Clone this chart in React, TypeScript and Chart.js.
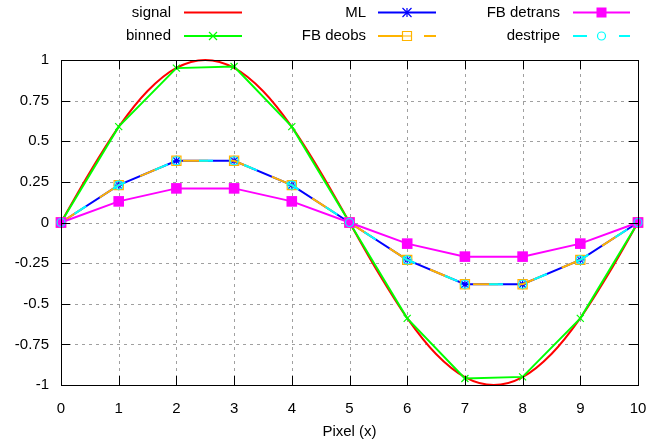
import React, { useEffect, useRef } from "react";
import { Chart, registerables } from "chart.js";

Chart.register(...registerables);

const pixels = [0, 1, 2, 3, 4, 5, 6, 7, 8, 9, 10];
const signalX = [0, 0.5, 1, 1.5, 2, 2.5, 3, 3.5, 4, 4.5, 5, 5.5, 6, 6.5, 7, 7.5, 8, 8.5, 9, 9.5, 10];
const signalY = [0, 0.309, 0.588, 0.809, 0.951, 1, 0.951, 0.809, 0.588, 0.309, 0, -0.309, -0.588, -0.809, -0.951, -1, -0.951, -0.809, -0.588, -0.309, 0];
const binned = [0, 0.59, 0.95, 0.96, 0.59, 0, -0.59, -0.96, -0.95, -0.59, 0];
const ml = [0, 0.23, 0.38, 0.38, 0.23, 0, -0.23, -0.38, -0.38, -0.23, 0];
const fbDeobs = [0, 0.23, 0.38, 0.38, 0.23, 0, -0.23, -0.38, -0.38, -0.23, 0];
const fbDetrans = [0, 0.13, 0.21, 0.21, 0.13, 0, -0.13, -0.21, -0.21, -0.13, 0];
const destripe = [0, 0.23, 0.38, 0.38, 0.23, 0, -0.23, -0.38, -0.38, -0.23, 0];

const xTickValues = [0, 1, 2, 3, 4, 5, 6, 7, 8, 9, 10];
const xTickLabels = ["0", "1", "2", "3", "4", "5", "6", "7", "8", "9", "10"];
const yTickValues = [-1, -0.75, -0.5, -0.25, 0, 0.25, 0.5, 0.75, 1];
const yTickLabels = ["-1", "-0.75", "-0.5", "-0.25", "0", "0.25", "0.5", "0.75", "1"];
const xTitle = "Pixel (x)";

const FONT = "Liberation Sans, Arial, sans-serif";
const FS = 15;

const RED = "#ff0000";
const GREEN = "#00ff00";
const BLUE = "#0000ff";
const ORANGE = "#ffb400";
const MAGENTA = "#ff00ff";
const CYAN = "#00ffff";

const ORANGE_DASH = [25, 21];
const CYAN_DASH = [14, 32];

type Marker = "none" | "x" | "star" | "box" | "fbox" | "circle";

function drawMarker(ctx: CanvasRenderingContext2D, m: Marker, x: number, y: number, color: string) {
  ctx.save();
  ctx.setLineDash([]);
  ctx.strokeStyle = color;
  ctx.fillStyle = color;
  ctx.lineWidth = 1.2;
  ctx.beginPath();
  if (m === "x") {
    const r = 4;
    ctx.moveTo(x - r, y - r); ctx.lineTo(x + r, y + r);
    ctx.moveTo(x - r, y + r); ctx.lineTo(x + r, y - r);
    ctx.stroke();
  } else if (m === "star") {
    const r = 4.5;
    ctx.moveTo(x - r, y - r); ctx.lineTo(x + r, y + r);
    ctx.moveTo(x - r, y + r); ctx.lineTo(x + r, y - r);
    ctx.moveTo(x - r, y); ctx.lineTo(x + r, y);
    ctx.moveTo(x, y - r); ctx.lineTo(x, y + r);
    ctx.stroke();
  } else if (m === "box") {
    const r = 4.5;
    ctx.rect(x - r, y - r, 2 * r, 2 * r);
    ctx.moveTo(x - r, y); ctx.lineTo(x + r, y);
    ctx.stroke();
  } else if (m === "fbox") {
    const r = 5;
    ctx.fillRect(x - r, y - r, 2 * r, 2 * r);
  } else if (m === "circle") {
    ctx.arc(x, y, 4, 0, Math.PI * 2);
    ctx.stroke();
  }
  ctx.restore();
}

const legendEntries = [
  { label: "signal", color: RED, textRight: 171, x1: 184, x2: 242, y: 12.5, dash: [] as number[], marker: "none" as Marker },
  { label: "binned", color: GREEN, textRight: 171, x1: 184, x2: 242, y: 36, dash: [] as number[], marker: "x" as Marker },
  { label: "ML", color: BLUE, textRight: 366, x1: 378, x2: 436, y: 12.5, dash: [] as number[], marker: "star" as Marker },
  { label: "FB deobs", color: ORANGE, textRight: 366, x1: 378, x2: 436, y: 36, dash: [25, 21], marker: "box" as Marker },
  { label: "FB detrans", color: MAGENTA, textRight: 560, x1: 573, x2: 630, y: 12.5, dash: [] as number[], marker: "fbox" as Marker },
  { label: "destripe", color: CYAN, textRight: 560, x1: 573, x2: 630, y: 36, dash: [14, 32], marker: "circle" as Marker },
];

const gnuplotPlugin = {
  id: "gnuplotDeco",
  beforeDatasetsDraw(chart: any) {
    const { ctx, chartArea: a, scales } = chart;
    ctx.save();
    ctx.strokeStyle = "#a0a0a0";
    ctx.lineWidth = 1;
    ctx.setLineDash([3, 4]);
    for (const v of xTickValues) {
      if (v === 0 || v === 10) continue;
      const px = Math.round(scales.x.getPixelForValue(v)) + 0.5;
      ctx.beginPath(); ctx.moveTo(px, a.top); ctx.lineTo(px, a.bottom); ctx.stroke();
    }
    for (const v of yTickValues) {
      if (v === -1 || v === 1) continue;
      const py = Math.round(scales.y.getPixelForValue(v)) + 0.5;
      ctx.beginPath(); ctx.moveTo(a.left, py); ctx.lineTo(a.right, py); ctx.stroke();
    }
    ctx.restore();
  },
  afterDraw(chart: any) {
    const { ctx, chartArea: a, scales } = chart;
    ctx.save();
    ctx.setLineDash([]);
    ctx.strokeStyle = "#000";
    ctx.lineWidth = 1;
    const tl = 9;
    for (const v of xTickValues) {
      const px = Math.round(scales.x.getPixelForValue(v)) + 0.5;
      ctx.beginPath();
      ctx.moveTo(px, a.bottom); ctx.lineTo(px, a.bottom - tl);
      ctx.moveTo(px, a.top); ctx.lineTo(px, a.top + tl);
      ctx.stroke();
    }
    for (const v of yTickValues) {
      const py = Math.round(scales.y.getPixelForValue(v)) + 0.5;
      ctx.beginPath();
      ctx.moveTo(a.left, py); ctx.lineTo(a.left + tl, py);
      ctx.moveTo(a.right, py); ctx.lineTo(a.right - tl, py);
      ctx.stroke();
    }
    ctx.strokeRect(Math.round(a.left) + 0.5, Math.round(a.top) + 0.5, Math.round(a.right - a.left), Math.round(a.bottom - a.top));

    ctx.fillStyle = "#000";
    ctx.font = `${FS}px ${FONT}`;
    ctx.textBaseline = "middle";
    ctx.textAlign = "center";
    ctx.fillText(xTitle, (a.left + a.right) / 2, 432);

    ctx.textAlign = "right";
    for (const e of legendEntries) {
      ctx.fillStyle = "#000";
      ctx.fillText(e.label, e.textRight, e.y);
      ctx.strokeStyle = e.color;
      ctx.lineWidth = 2;
      ctx.setLineDash(e.dash);
      ctx.beginPath();
      ctx.moveTo(e.x1, e.y); ctx.lineTo(e.x2, e.y);
      ctx.stroke();
      ctx.setLineDash([]);
      drawMarker(ctx, e.marker, (e.x1 + e.x2) / 2, e.y, e.color);
    }
    ctx.restore();
  },
};

export default function App() {
  const ref = useRef<HTMLCanvasElement | null>(null);
  useEffect(() => {
    if (!ref.current) return;
    const pts = (ys: number[]) => pixels.map((x, i) => ({ x, y: ys[i] }));
    const chart = new Chart(ref.current, {
      type: "line",
      data: {
        datasets: [
          {
            label: "signal",
            data: signalX.map((x, i) => ({ x, y: signalY[i] })),
            borderColor: RED, borderWidth: 2, pointRadius: 0,
            cubicInterpolationMode: "monotone", order: 6, clip: false,
          },
          {
            label: "binned",
            data: pts(binned),
            borderColor: GREEN, borderWidth: 2, pointStyle: "crossRot", pointRadius: 5,
            pointBorderColor: GREEN, pointBorderWidth: 1.2, order: 5, clip: false,
          },
          {
            label: "ML",
            data: pts(ml),
            borderColor: BLUE, borderWidth: 2, pointStyle: "star", pointRadius: 5,
            pointBorderColor: BLUE, pointBorderWidth: 1.2, order: 4, clip: false,
          },
          {
            label: "FB deobs",
            data: pts(fbDeobs),
            borderColor: ORANGE, borderWidth: 2, borderDash: ORANGE_DASH,
            pointStyle: "rect", pointRadius: 6.5, pointBackgroundColor: "rgba(0,0,0,0)",
            pointBorderColor: ORANGE, pointBorderWidth: 1.2, order: 3, clip: false,
          },
          {
            label: "FB detrans",
            data: pts(fbDetrans),
            borderColor: MAGENTA, borderWidth: 2, pointStyle: "rect", pointRadius: 7.5,
            pointBackgroundColor: MAGENTA, pointBorderColor: MAGENTA, pointBorderWidth: 0, order: 2, clip: false,
          },
          {
            label: "destripe",
            data: pts(destripe),
            borderColor: CYAN, borderWidth: 2, borderDash: CYAN_DASH, borderDashOffset: 30,
            pointStyle: "circle", pointRadius: 4, pointBackgroundColor: "rgba(0,0,0,0)",
            pointBorderColor: CYAN, pointBorderWidth: 1.2, order: 1, clip: false,
          },
        ] as any,
      },
      options: {
        animation: false,
        responsive: false,
        maintainAspectRatio: false,
        events: [],
        layout: { padding: { top: 60, right: 34, left: 0, bottom: 0 } },
        plugins: { legend: { display: false }, tooltip: { enabled: false } },
        scales: {
          x: {
            type: "linear", min: 0, max: 10,
            afterBuildTicks: (s: any) => { s.ticks = xTickValues.map((v) => ({ value: v })); },
            afterFit: (s: any) => { s.height = 63; },
            ticks: {
              callback: (v: any) => xTickLabels[xTickValues.indexOf(Number(v))] ?? "",
              padding: 15, color: "#000", font: { family: FONT, size: FS }, maxRotation: 0, autoSkip: false,
            },
            grid: { display: false, drawTicks: false },
            border: { display: false },
          },
          y: {
            type: "linear", min: -1, max: 1,
            afterBuildTicks: (s: any) => { s.ticks = yTickValues.map((v) => ({ value: v })); },
            afterFit: (s: any) => { s.width = 61; },
            ticks: {
              callback: (v: any) => yTickLabels[yTickValues.indexOf(Number(v))] ?? "",
              padding: 12, color: "#000", font: { family: FONT, size: FS }, autoSkip: false,
            },
            grid: { display: false, drawTicks: false },
            border: { display: false },
          },
        },
      } as any,
      plugins: [gnuplotPlugin],
    });
    return () => chart.destroy();
  }, []);
  return (
    <div style={{ position: "absolute", left: 0, top: 0, width: 672, height: 448, background: "#fff" }}>
      <canvas ref={ref} width={672} height={448} style={{ display: "block" }} />
    </div>
  );
}
